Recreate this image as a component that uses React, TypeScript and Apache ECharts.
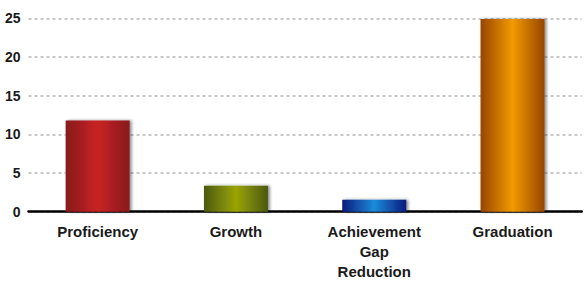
import React, { useEffect, useRef } from "react";
import * as echarts from "echarts";

const categories = ["Proficiency", "Growth", "Achievement\nGap\nReduction", "Graduation"];
const values = [11.8, 3.35, 1.55, 24.9];
const edgeColors = ["#861b1e", "#4b5812", "#0c1a7e", "#974500"];
const centerColors = ["#c92222", "#9aa504", "#1b8bd9", "#f29a00"];
const yTicks = [0, 5, 10, 15, 20, 25];

export default function App() {
  const ref = useRef<HTMLDivElement>(null);
  useEffect(() => {
    if (!ref.current) return;
    const chart = echarts.init(ref.current, undefined, { renderer: "svg" });
    const data = values.map((v, i) => ({
      value: v,
      itemStyle: {
        color: new echarts.graphic.LinearGradient(0, 0, 1, 0, [
          { offset: 0, color: edgeColors[i] },
          { offset: 0.5, color: centerColors[i] },
          { offset: 1, color: edgeColors[i] },
        ]),
        shadowColor: "rgba(0,0,0,0.45)",
        shadowBlur: 3,
        shadowOffsetX: 2,
        shadowOffsetY: 0,
      },
    }));
    chart.setOption({
      animation: false,
      grid: { left: 28.5, right: 5.3, top: 18.3, bottom: 72.3, containLabel: false },
      xAxis: {
        type: "category",
        data: categories,
        axisLine: { show: true, lineStyle: { color: "#000", width: 2.5 } },
        axisTick: { show: false },
        axisLabel: {
          color: "#1a1a1a",
          fontFamily: "Liberation Sans, Arial, sans-serif",
          fontWeight: "bold",
          fontSize: 15,
          lineHeight: 20,
          margin: 10,
          interval: 0,
        },
      },
      yAxis: {
        type: "value",
        min: yTicks[0],
        max: yTicks[yTicks.length - 1],
        interval: 5,
        axisLine: { show: false },
        axisTick: { show: false },
        axisLabel: {
          color: "#1a1a1a",
          fontFamily: "Liberation Sans, Arial, sans-serif",
          fontWeight: "bold",
          fontSize: 14,
          margin: 8,
        },
        splitLine: { show: true, lineStyle: { color: "#c8c8c8", width: 2, type: [3, 3] } },
      },
      series: [
        {
          type: "bar",
          data,
          barWidth: 64,
        },
      ],
    });
    return () => chart.dispose();
  }, []);
  return <div ref={ref} style={{ width: 587, height: 284, position: "absolute", left: 0, top: 0 }} />;
}
